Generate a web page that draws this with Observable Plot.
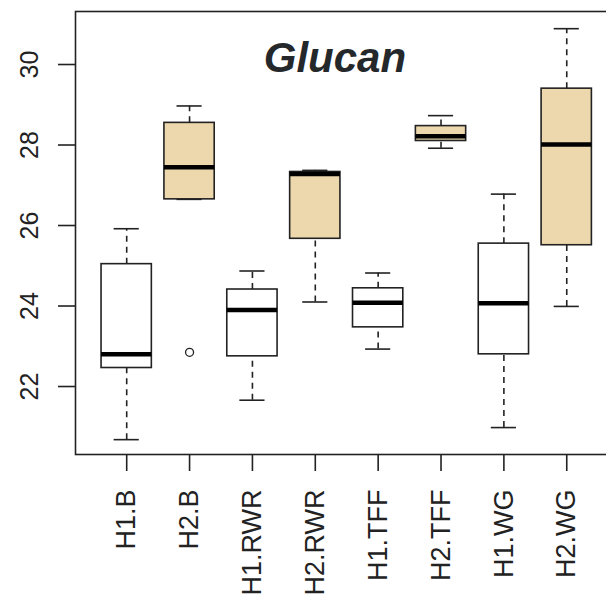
<!DOCTYPE html>
<html>
<head>
<meta charset="utf-8">
<script src="https://cdn.jsdelivr.net/npm/d3@7"></script>
<script src="https://cdn.jsdelivr.net/npm/@observablehq/plot@0.6"></script>
<style>
  html, body { margin: 0; padding: 0; background: #fff; overflow: hidden; }
  #chart svg { overflow: hidden; display: block; }
</style>
</head>
<body>
<div id="chart"></div>
<script>
const title = "Glucan";
const categories = ["H1.B", "H2.B", "H1.RWR", "H2.RWR", "H1.TFF", "H2.TFF", "H1.WG", "H2.WG"];
const lowerWhisker = [20.68, 26.65, 21.66, 24.10, 22.93, 27.92, 20.98, 23.99];
const q1 =           [22.46, 26.65, 22.75, 25.67, 23.47, 28.10, 22.80, 25.51];
const median =       [22.80, 27.45, 23.90, 27.28, 24.08, 28.22, 24.07, 28.01];
const q3 =           [25.04, 28.55, 24.41, 27.33, 24.44, 28.47, 25.55, 29.40];
const upperWhisker = [25.92, 28.97, 24.87, 27.37, 24.82, 28.73, 26.78, 30.89];
const outlierGroups = ["H2.B"];
const outlierValues = [22.85];
const yTicks = [22, 24, 26, 28, 30];
const groupFill = {H1: "#ffffff", H2: "#EDD8AD"};

const boxes = categories.map((c, i) => ({
  name: c, pos: i + 1, fill: groupFill[c.slice(0, 2)],
  lo: lowerWhisker[i], q1: q1[i], med: median[i], q3: q3[i], hi: upperWhisker[i]
}));
const outliers = outlierGroups.map((g, i) => ({pos: categories.indexOf(g) + 1, value: outlierValues[i]}));

const boxHalf = 0.4, capHalf = 0.2;
const ink = "#222";

const chart = Plot.plot({
  width: 606,
  height: 599,
  marginLeft: 75, marginTop: 11, marginBottom: 145, marginRight: -11.8,
  style: {fontFamily: "'Liberation Sans', Arial, sans-serif", background: "#fff"},
  x: {type: "linear", domain: [0.18, 8.82], range: [74.65, 617.8]},
  y: {type: "linear", domain: [20.311, 31.317], range: [454, 11]},
  marks: [
    // whiskers (dashed)
    Plot.ruleX(boxes, {x: "pos", y1: "q3", y2: "hi", stroke: ink, strokeWidth: 1.6, strokeDasharray: "6,5"}),
    Plot.ruleX(boxes, {x: "pos", y1: "lo", y2: "q1", stroke: ink, strokeWidth: 1.6, strokeDasharray: "6,5"}),
    // caps
    Plot.ruleY(boxes, {y: "hi", x1: d => d.pos - capHalf, x2: d => d.pos + capHalf, stroke: ink, strokeWidth: 1.6}),
    Plot.ruleY(boxes, {y: "lo", x1: d => d.pos - capHalf, x2: d => d.pos + capHalf, stroke: ink, strokeWidth: 1.6}),
    // boxes
    Plot.rect(boxes, {x1: d => d.pos - boxHalf, x2: d => d.pos + boxHalf, y1: "q1", y2: "q3", fill: "fill", stroke: ink, strokeWidth: 1.6}),
    // medians
    Plot.ruleY(boxes, {y: "med", x1: d => d.pos - boxHalf, x2: d => d.pos + boxHalf, stroke: "#000", strokeWidth: 4.5}),
    // outliers
    Plot.dot(outliers, {x: "pos", y: "value", r: 4, stroke: ink, strokeWidth: 1.3, fill: "none"}),
    // frame
    Plot.frame({stroke: ink, strokeWidth: 1.6}),
    // axes
    Plot.axisY({ticks: yTicks, tickSize: 17, tickPadding: 21, tickRotate: -90, fontSize: 25, stroke: ink, strokeWidth: 1.6, fill: ink, label: null}),
    Plot.axisX({ticks: d3.range(1, categories.length + 1), tickFormat: d => categories[d - 1], tickSize: 17, tickPadding: 18, tickRotate: -90, fontSize: 27, stroke: ink, strokeWidth: 1.6, fill: ink, label: null}),
    // title
    Plot.text([title], {frameAnchor: "top", text: d => d, dx: -12, dy: 31, lineAnchor: "top", fontSize: 42, fontWeight: "bold", fontStyle: "italic", fill: "#25282b"})
  ]
});
document.getElementById("chart").appendChild(chart);
</script>
</body>
</html>
